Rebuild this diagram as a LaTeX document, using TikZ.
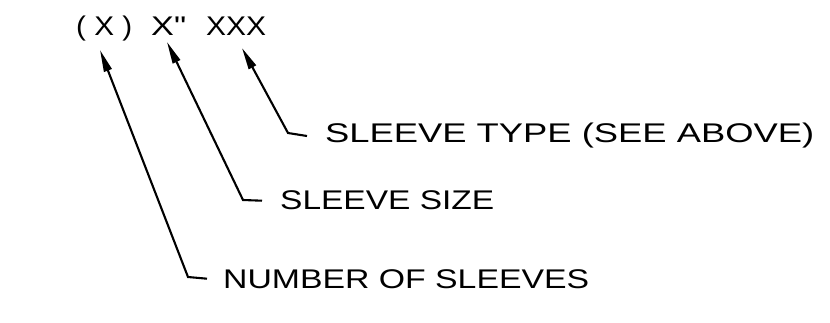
\documentclass[tikz,border=0pt]{standalone}
\usepackage{fontspec}
\setmainfont[Ligatures=TeXOff]{Liberation Sans}
\usetikzlibrary{arrows.meta}
\newcommand\cadfit[2]{\resizebox{#1}{\height}{#2}}
\begin{document}
\begin{tikzpicture}[x=1pt,y=-1pt,
  lbl/.style={inner sep=0pt,anchor=base west,font=\fontsize{27}{27}\selectfont},
  leader/.style={line width=2.1pt,-{Triangle[length=22pt,width=8pt]}}]
\useasboundingbox (0,0) rectangle (830,323);
% top designation
\node[lbl] (qty)  at (76,36)  {\cadfit{56pt}{( X )}};
\node[lbl] (size) at (151,36) {\cadfit{35pt}{X"}};
\node[lbl] (type) at (206,36) {\cadfit{60pt}{XXX}};
% labels
\node[lbl] (ltype) at (325,143) {\cadfit{489pt}{SLEEVE TYPE (SEE ABOVE)}};
\node[lbl] (lsize) at (280,210) {\cadfit{214pt}{SLEEVE SIZE}};
\node[lbl] (lnum)  at (223,288) {\cadfit{366pt}{NUMBER OF SLEEVES}};
% leader geometry
\coordinate (t1) at (100,50);
\coordinate (e1) at (188,277);
\coordinate (t2) at (167,42);
\coordinate (e2) at (243,200);
\coordinate (t3) at (242,48);
\coordinate (e3) at (288,133);
\draw[leader] ([xshift=-16pt]lnum.west) -- (e1) -- (t1);
\draw[leader] ([xshift=-18pt]lsize.west) -- (e2) -- (t2);
\draw[leader] ([xshift=-18pt]ltype.west) -- (e3) -- (t3);
\end{tikzpicture}
\end{document}
